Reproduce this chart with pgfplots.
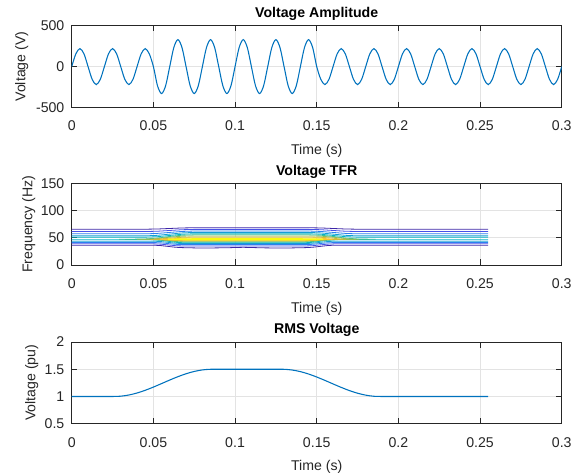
\documentclass[border=0pt]{standalone}
\usepackage{fontspec}
\setmainfont{Liberation Sans}
\usepackage{pgfplots}
\pgfplotsset{compat=1.18}

\definecolor{mblue}{HTML}{0072BD}
\definecolor{axgray}{HTML}{262626}
\definecolor{gridc}{HTML}{E3E3E3}
% parula-like contour levels
\definecolor{p1}{HTML}{3E26A8}
\definecolor{p2}{HTML}{4751E8}
\definecolor{p3}{HTML}{2B80EE}
\definecolor{p4}{HTML}{149ED6}
\definecolor{p5}{HTML}{06B4C4}
\definecolor{p6}{HTML}{38BD9A}
\definecolor{p7}{HTML}{8CBF5A}
\definecolor{p8}{HTML}{D0BA38}
\definecolor{p9}{HTML}{FBC52E}
\definecolor{p10}{HTML}{F9FB0E}

\newcommand{\fs}{\fontsize{10.6}{12.7}\selectfont}

\pgfplotsset{
  every axis title shift=0pt,
  panel/.style={
    scale only axis, width=367.5pt, height=61.3pt,
    xmin=0, xmax=0.3,
    xtick={0,0.05,0.1,0.15,0.2,0.25,0.3},
    xticklabels={0,0.05,0.1,0.15,0.2,0.25,0.3},
    grid=major, major grid style={gridc, line width=0.6pt},
    axis line style={axgray, line width=0.6pt},
    tick style={axgray, line width=0.6pt},
    major tick length=4.3pt,
    tick label style={font=\fs, text=axgray},
    x tick label style={yshift=-6.7pt},
    y tick label style={xshift=-2pt},
    label style={font=\fs, text=axgray},
    xlabel={Time (s)},
    xlabel style={at={(axis description cs:0.5,-0.53)}, anchor=center},
    title style={at={(axis description cs:0.5,1.143)}, anchor=center, font=\fs\bfseries},
  },
}

\begin{document}
\begin{tikzpicture}

% --- voltage waveform ---
\begin{axis}[panel, at={(0,0)}, anchor=north west,
  ymin=-500, ymax=500, ytick={-500,0,500}, yticklabels={-500,0,500},
  ylabel={Voltage (V)},
  ylabel style={at={(axis description cs:-0.102,0.5)}, anchor=center},
  title={Voltage Amplitude}]
\addplot[mblue, line width=0.8pt, smooth] coordinates {
(0,0) (0.0025,155.6) (0.005,220) (0.0075,155.6) (0.01,0) (0.0125,-155.6) (0.015,-220) (0.0175,-155.6)
(0.02,0) (0.0225,155.6) (0.025,220) (0.0275,155.6) (0.03,0) (0.0325,-155.6) (0.035,-220) (0.0375,-155.6)
(0.04,0) (0.0425,155.6) (0.045,220) (0.0475,155.6) (0.05,0) (0.0525,-233.3) (0.055,-330) (0.0575,-233.3)
(0.06,0) (0.0625,233.3) (0.065,330) (0.0675,233.3) (0.07,0) (0.0725,-233.3) (0.075,-330) (0.0775,-233.3)
(0.08,0) (0.0825,233.3) (0.085,330) (0.0875,233.3) (0.09,0) (0.0925,-233.3) (0.095,-330) (0.0975,-233.3)
(0.1,0) (0.1025,233.3) (0.105,330) (0.1075,233.3) (0.11,0) (0.1125,-233.3) (0.115,-330) (0.1175,-233.3)
(0.12,0) (0.1225,233.3) (0.125,330) (0.1275,233.3) (0.13,0) (0.1325,-233.3) (0.135,-330) (0.1375,-233.3)
(0.14,0) (0.1425,233.3) (0.145,330) (0.1475,233.3) (0.15,0) (0.1525,-155.6) (0.155,-220) (0.1575,-155.6)
(0.16,0) (0.1625,155.6) (0.165,220) (0.1675,155.6) (0.17,0) (0.1725,-155.6) (0.175,-220) (0.1775,-155.6)
(0.18,0) (0.1825,155.6) (0.185,220) (0.1875,155.6) (0.19,0) (0.1925,-155.6) (0.195,-220) (0.1975,-155.6)
(0.2,0) (0.2025,155.6) (0.205,220) (0.2075,155.6) (0.21,0) (0.2125,-155.6) (0.215,-220) (0.2175,-155.6)
(0.22,0) (0.2225,155.6) (0.225,220) (0.2275,155.6) (0.23,0) (0.2325,-155.6) (0.235,-220) (0.2375,-155.6)
(0.24,0) (0.2425,155.6) (0.245,220) (0.2475,155.6) (0.25,0) (0.2525,-155.6) (0.255,-220) (0.2575,-155.6)
(0.26,0) (0.2625,155.6) (0.265,220) (0.2675,155.6) (0.27,0) (0.2725,-155.6) (0.275,-220) (0.2775,-155.6)
(0.28,0) (0.2825,155.6) (0.285,220) (0.2875,155.6) (0.29,0) (0.2925,-155.6) (0.295,-220) (0.2975,-155.6)
(0.3,0)};
\end{axis}

% --- time-frequency contours ---
\begin{axis}[panel, at={(0,-118.2pt)}, anchor=north west,
  ymin=0, ymax=150, ytick={0,50,100,150}, yticklabels={0,50,100,150},
  ylabel={Frequency (Hz)},
  ylabel style={at={(axis description cs:-0.0878,0.5)}, anchor=center},
  title={Voltage TFR}]
% outer levels, upper side
\addplot[p1, line width=0.6pt] coordinates {(0,65.8) (0.045,65.8) (0.0525,66.2) (0.06,67.15) (0.0675,68.1) (0.075,68.5) (0.145,68.5) (0.1525,68.1) (0.16,67.15) (0.1675,66.2) (0.175,65.8) (0.255,65.8)};
\addplot[p2, line width=0.6pt] coordinates {(0,61.5) (0.045,61.5) (0.0525,62.1) (0.06,63.5) (0.0675,64.9) (0.075,65.5) (0.145,65.5) (0.1525,64.9) (0.16,63.5) (0.1675,62.1) (0.175,61.5) (0.255,61.5)};
\addplot[p3, line width=0.6pt] coordinates {(0,57.3) (0.045,57.3) (0.0525,58.1) (0.06,59.9) (0.0675,61.7) (0.075,62.5) (0.145,62.5) (0.1525,61.7) (0.16,59.9) (0.1675,58.1) (0.175,57.3) (0.255,57.3)};
\addplot[p4, line width=0.6pt] coordinates {(0,53.6) (0.045,53.6) (0.0525,54.6) (0.06,56.8) (0.0675,59.0) (0.075,60.0) (0.145,60.0) (0.1525,59.0) (0.16,56.8) (0.1675,54.6) (0.175,53.6) (0.255,53.6)};
\addplot[p5, line width=0.6pt] coordinates {(0,51.2) (0.045,51.2) (0.0525,52.1) (0.06,54.35) (0.0675,56.6) (0.075,57.5) (0.145,57.5) (0.1525,56.6) (0.16,54.35) (0.1675,52.1) (0.175,51.2) (0.255,51.2)};
% outer levels, lower side
\addplot[p1, line width=0.6pt] coordinates {(0,36.5) (0.05,36.5) (0.0545,35.8) (0.059,34.25) (0.0635,32.7) (0.068,32) (0.08,31.2) (0.095,31.8) (0.105,32.6) (0.118,31.6) (0.13,31.2) (0.143,32) (0.1475,32.7) (0.152,34.25) (0.1565,35.8) (0.161,36.5) (0.255,36.5)};
\addplot[p2, line width=0.6pt] coordinates {(0,39) (0.05,39) (0.0545,38.4) (0.059,37) (0.0635,35.6) (0.068,35) (0.143,35) (0.1475,35.6) (0.152,37) (0.1565,38.4) (0.161,39) (0.255,39)};
\addplot[p3, line width=0.6pt] coordinates {(0,41.4) (0.05,41.4) (0.0545,40.8) (0.059,39.45) (0.0635,38.1) (0.068,37.5) (0.143,37.5) (0.1475,38.1) (0.152,39.45) (0.1565,40.8) (0.161,41.4) (0.255,41.4)};
\addplot[p4, line width=0.6pt] coordinates {(0,43.8) (0.05,43.8) (0.0545,43.2) (0.059,41.65) (0.0635,40.1) (0.068,39.5) (0.143,39.5) (0.1475,40.1) (0.152,41.65) (0.1565,43.2) (0.161,43.8) (0.255,43.8)};
\addplot[p5, line width=0.6pt] coordinates {(0,46.3) (0.05,46.3) (0.0545,45.5) (0.059,43.65) (0.0635,41.8) (0.068,41) (0.143,41) (0.1475,41.8) (0.152,43.65) (0.1565,45.5) (0.161,46.3) (0.255,46.3)};
% inner levels, closed loops during the swell
\addplot[p6, line width=0.6pt] coordinates {(0.029,47.3) (0.04,47.6) (0.045,47.9) (0.0525,49.5) (0.06,52.5) (0.0675,54.8) (0.075,55.5) (0.145,55.5) (0.1525,54.8) (0.16,52.5) (0.1675,49.5) (0.175,47.9) (0.186,47.3)
 (0.175,47.0) (0.161,46.7) (0.1565,46.0) (0.152,44.8) (0.1475,43.2) (0.143,42.5) (0.068,42.5) (0.0635,43.2) (0.059,44.8) (0.0545,46.0) (0.05,46.7) (0.04,47.0) (0.029,47.3)};
\addplot[p7, line width=0.6pt] coordinates {(0.04,47.3) (0.05,47.8) (0.0525,48.6) (0.06,51.2) (0.0675,53.0) (0.075,53.5) (0.145,53.5) (0.1525,53.0) (0.16,51.2) (0.1675,48.6) (0.17,47.8) (0.176,47.3)
 (0.17,47.0) (0.161,46.9) (0.1565,46.4) (0.152,45.4) (0.1475,44.3) (0.143,43.8) (0.068,43.8) (0.0635,44.3) (0.059,45.4) (0.0545,46.4) (0.05,46.9) (0.045,47.0) (0.04,47.3)};
\addplot[p8, line width=0.6pt] coordinates {(0.048,47.3) (0.0525,47.8) (0.06,49.3) (0.0675,51.0) (0.075,51.5) (0.145,51.5) (0.1525,51.0) (0.16,49.3) (0.164,48.0) (0.168,47.3)
 (0.161,47.0) (0.1565,46.7) (0.152,45.8) (0.1475,45.1) (0.143,44.8) (0.068,44.8) (0.0635,45.1) (0.059,45.8) (0.0545,46.7) (0.05,47.0) (0.048,47.3)};
\addplot[p9, line width=0.6pt] coordinates {(0.054,47.3) (0.06,48.0) (0.0675,49.3) (0.075,49.8) (0.145,49.8) (0.1525,49.3) (0.157,48.2) (0.16,47.3)
 (0.157,46.9) (0.152,46.4) (0.1475,45.9) (0.143,45.7) (0.068,45.7) (0.0635,45.9) (0.059,46.4) (0.056,46.9) (0.054,47.3)};
\addplot[p10, line width=0.8pt] coordinates {(0.059,47.3) (0.065,47.9) (0.075,48.3) (0.14,48.3) (0.149,47.9) (0.154,47.3)
 (0.149,46.7) (0.14,46.3) (0.075,46.3) (0.065,46.7) (0.059,47.3)};
\end{axis}

% --- RMS voltage ---
\begin{axis}[panel, at={(0,-237.2pt)}, anchor=north west,
  ymin=0.5, ymax=2, ytick={0.5,1,1.5,2}, yticklabels={0.5,1,1.5,2},
  ylabel={Voltage (pu)},
  ylabel style={at={(axis description cs:-0.0816,0.5)}, anchor=center},
  title={RMS Voltage}]
\addplot[mblue, line width=0.8pt, smooth] coordinates {
(0,1) (0.005,1) (0.01,1) (0.015,1) (0.02,1) (0.025,1) (0.03,1.0055) (0.035,1.0273) (0.04,1.0642)
(0.045,1.1139) (0.05,1.1727) (0.055,1.2369) (0.06,1.302) (0.065,1.3635) (0.07,1.4173) (0.075,1.4597)
(0.08,1.4878) (0.085,1.4996) (0.09,1.5) (0.095,1.5) (0.1,1.5) (0.105,1.5) (0.11,1.5) (0.115,1.5)
(0.12,1.5) (0.125,1.5) (0.13,1.4992) (0.135,1.4856) (0.14,1.4563) (0.145,1.4124) (0.15,1.3576)
(0.155,1.2956) (0.16,1.2304) (0.165,1.1666) (0.17,1.1083) (0.175,1.0599) (0.18,1.0244) (0.185,1.0042)
(0.19,1) (0.195,1) (0.2,1) (0.205,1) (0.21,1) (0.215,1) (0.22,1) (0.225,1) (0.23,1) (0.235,1)
(0.24,1) (0.245,1) (0.25,1) (0.255,1)};
\end{axis}

\pgfresetboundingbox
\useasboundingbox (-53.8pt,19.3pt) rectangle (378.2pt,-337pt);
\end{tikzpicture}
\end{document}
